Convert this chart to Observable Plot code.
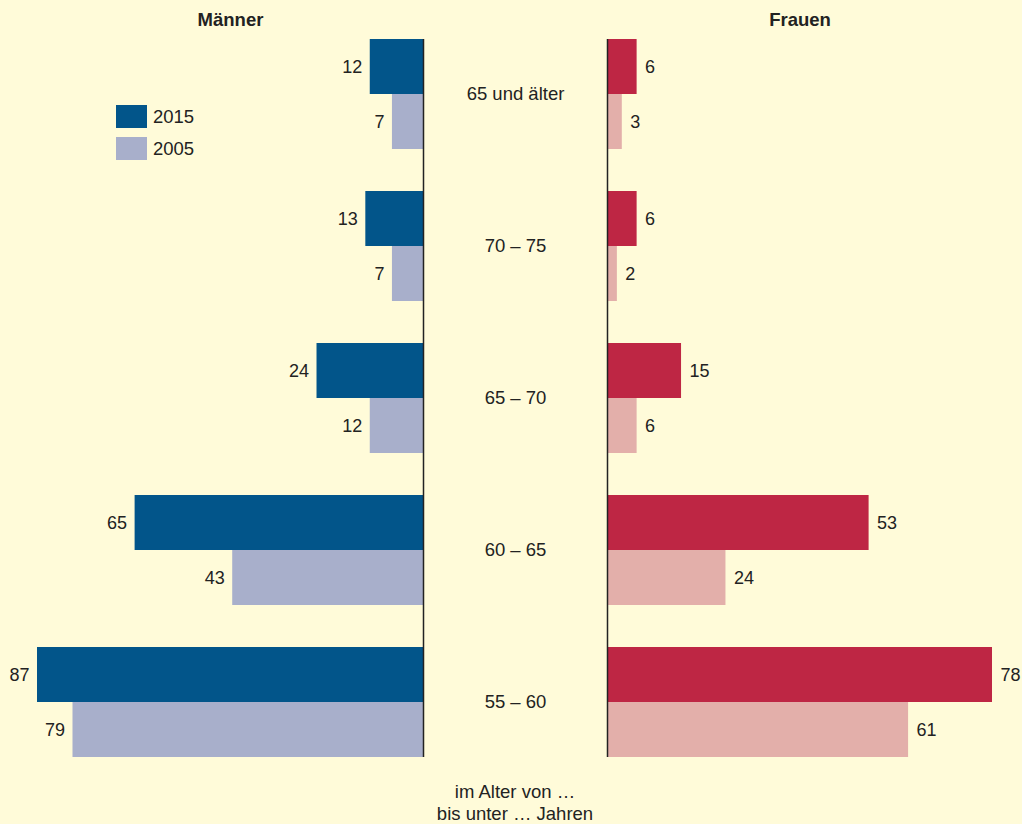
<!DOCTYPE html>
<html>
<head>
<meta charset="utf-8">
<script src="https://cdn.jsdelivr.net/npm/d3@7"></script>
<script src="https://cdn.jsdelivr.net/npm/@observablehq/plot@0.6"></script>
<style>
  html, body { margin: 0; padding: 0; background: #fffbd9; }
  #wrap { position: relative; width: 1022px; height: 824px; background: #fffbd9; font-family: "Liberation Sans", Arial, sans-serif; color: #222; overflow: hidden; }
  #wrap svg { position: absolute; left: 0; top: 0; background: transparent; }
  .leg { position: absolute; left: 116px; font-size: 18.5px; display: flex; align-items: center; }
  .leg span.sw { display: inline-block; width: 31px; height: 23px; margin-right: 6px; }
  .foot { position: absolute; left: 315px; width: 400px; text-align: center; font-size: 18.5px; line-height: 22px; }
</style>
</head>
<body>
<div id="wrap"></div>
<script>
const ageGroups = ["65 und älter", "70 – 75", "65 – 70", "60 – 65", "55 – 60"];
const men2015 = [12, 13, 24, 65, 87];
const men2005 = [7, 7, 12, 43, 79];
const women2015 = [6, 6, 15, 53, 78];
const women2005 = [3, 2, 6, 24, 61];
const years = ["2015", "2005"];
const panelTitles = ["Männer", "Frauen"];
const footLines = ["im Alter von …", "bis unter … Jahren"];

const colors = {
  men2015: "#02558a", men2005: "#a8afcb",
  women2015: "#be2644", women2005: "#e3afaa",
  text: "#222222"
};

const W = 1022, H = 824;
const font = "Liberation Sans, Arial, sans-serif";
const rows = (vals) => ageGroups.map((a, i) => ({age: a, value: vals[i]}));

const yOpts = {domain: ageGroups, paddingInner: 42 / 152, paddingOuter: 0, axis: null};
const halfBand = 55;

function panel({v15, v05, c15, c05, left, xMax, reverse, title, center}) {
  const d15 = rows(v15), d05 = rows(v05);
  const marks = [
    Plot.barX(d15, {x: "value", y: "age", fill: c15, insetBottom: halfBand}),
    Plot.barX(d05, {x: "value", y: "age", fill: c05, insetTop: halfBand}),
    Plot.ruleX([0], {stroke: colors.text, strokeWidth: 1.5}),
    Plot.text(d15, {x: "value", y: "age", text: d => String(d.value), dy: -27.5, dx: left ? -8 : 8, textAnchor: left ? "end" : "start", fill: colors.text, fontSize: 18}),
    Plot.text(d05, {x: "value", y: "age", text: d => String(d.value), dy: 27.5, dx: left ? -8 : 8, textAnchor: left ? "end" : "start", fill: colors.text, fontSize: 18}),
    Plot.text([title], {frameAnchor: "top", lineAnchor: "middle", dy: -19, fontWeight: "bold", fontSize: 18.5, fill: colors.text})
  ];
  if (center) {
    marks.push(Plot.text(ageGroups, {y: d => d, frameAnchor: "left", dx: -92, textAnchor: "middle", fill: colors.text, fontSize: 18.5}));
  }
  return Plot.plot({
    width: W, height: H,
    marginTop: 39, marginBottom: 67,
    marginLeft: left ? 37 : 607,
    marginRight: left ? W - 423 : W - 992,
    style: {background: "transparent", fontFamily: font, overflow: "visible"},
    x: {domain: [0, xMax], reverse, axis: null},
    y: yOpts,
    marks
  });
}

const wrap = document.getElementById("wrap");
wrap.appendChild(panel({v15: men2015, v05: men2005, c15: colors.men2015, c05: colors.men2005, left: true, xMax: d3.max(men2015), reverse: true, title: panelTitles[0]}));
wrap.appendChild(panel({v15: women2015, v05: women2005, c15: colors.women2015, c05: colors.women2005, left: false, xMax: d3.max(women2015), reverse: false, title: panelTitles[1], center: true}));

// legend
[[years[0], colors.men2015, 105], [years[1], colors.men2005, 137]].forEach(([lab, col, top]) => {
  const el = document.createElement("div");
  el.className = "leg";
  el.style.top = top + "px";
  el.innerHTML = `<span class="sw" style="background:${col}"></span><span>${lab}</span>`;
  wrap.appendChild(el);
});

// footer
const foot = document.createElement("div");
foot.className = "foot";
foot.style.top = "781px";
foot.innerHTML = footLines.join("<br>");
wrap.appendChild(foot);
</script>
</body>
</html>
